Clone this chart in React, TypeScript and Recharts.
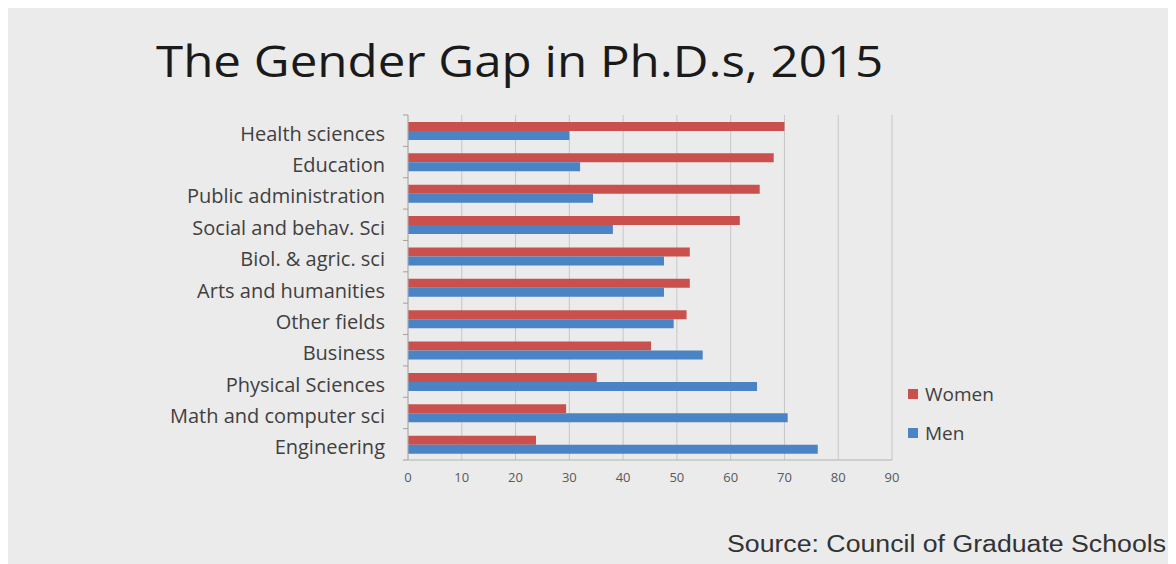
import React from "react";
import { BarChart, Bar, XAxis, YAxis, CartesianGrid } from "recharts";

const categories = [
  "Health sciences",
  "Education",
  "Public administration",
  "Social and behav. Sci",
  "Biol. & agric. sci",
  "Arts and humanities",
  "Other fields",
  "Business",
  "Physical Sciences",
  "Math and computer sci",
  "Engineering",
];
const women = [70, 68, 65.4, 61.7, 52.4, 52.4, 51.8, 45.2, 35.1, 29.4, 23.8];
const men = [30, 32, 34.4, 38.1, 47.6, 47.6, 49.4, 54.8, 64.9, 70.6, 76.2];
const xTicks = [0, 10, 20, 30, 40, 50, 60, 70, 80, 90];

const data = categories.map((name, i) => ({ name, Women: women[i], Men: men[i] }));

const W = 1168;
const H = 556;
const MARGIN = { top: 107, right: 284, bottom: 74, left: 0 };
const X_AXIS_H = 30;
const Y_AXIS_W = 400;
const TICK_SIZE = 6;
const TICK_MARGIN = 17;
const PLOT_H = H - MARGIN.top - MARGIN.bottom - X_AXIS_H;
const BAND = PLOT_H / categories.length;

const RED = "#c9504d";
const BLUE = "#4a84c4";
const FONT = "'Open Sans', Lato, sans-serif";

const YTick = (props: any) => {
  const { x, y, payload, index } = props;
  const ax = x + TICK_SIZE + TICK_MARGIN;
  return (
    <g>
      <text x={x} y={y} dy="0.5em" textAnchor="end" fill="#404040" fontSize={20} fontFamily={FONT}>
        {payload.value}
      </text>
      <line x1={ax - 5} x2={ax} y1={y - BAND / 2} y2={y - BAND / 2} stroke="#a0a0a0" />
      {index === categories.length - 1 && (
        <line x1={ax - 5} x2={ax} y1={y + BAND / 2} y2={y + BAND / 2} stroke="#a0a0a0" />
      )}
    </g>
  );
};

export default function App() {
  return (
    <div style={{ position: "relative", width: W, height: H, background: "#ebebeb", fontFamily: FONT }}>
      <div
        style={{
          position: "absolute",
          left: 148,
          top: 22,
          fontSize: 44,
          color: "#1a1a1a",
          fontFamily: FONT,
          whiteSpace: "nowrap",
          lineHeight: "60px",
          transform: "scaleX(1.12)",
          transformOrigin: "left center",
        }}
      >
        The Gender Gap in Ph.D.s, 2015
      </div>
      <BarChart
        width={W}
        height={H}
        data={data}
        layout="vertical"
        margin={MARGIN}
        barGap={0}
        barSize={9}
        style={{ position: "absolute", left: 0, top: 0 }}
      >
        <CartesianGrid horizontal={false} stroke="#c6c6c6" />
        <XAxis
          type="number"
          domain={[0, 90]}
          ticks={xTicks}
          interval={0}
          height={X_AXIS_H}
          axisLine={{ stroke: "#b0b0b0" }}
          tickLine={false}
          tickMargin={7}
          tick={{ fill: "#595959", fontSize: 13, fontFamily: FONT }}
        />
        <YAxis
          type="category"
          dataKey="name"
          width={Y_AXIS_W}
          axisLine={{ stroke: "#b0b0b0" }}
          tickLine={false}
          tickSize={TICK_SIZE}
          tickMargin={TICK_MARGIN}
          interval={0}
          tick={<YTick />}
        />
        <Bar dataKey="Women" fill={RED} isAnimationActive={false} />
        <Bar dataKey="Men" fill={BLUE} isAnimationActive={false} />
      </BarChart>
      <div style={{ position: "absolute", left: 900, top: 366 }}>
        {[
          { label: "Women", color: RED },
          { label: "Men", color: BLUE },
        ].map((it) => (
          <div key={it.label} style={{ display: "flex", alignItems: "center", height: 39 }}>
            <span style={{ width: 10, height: 10, background: it.color, display: "inline-block", marginRight: 7 }} />
            <span style={{ fontSize: 19, color: "#404040" }}>{it.label}</span>
          </div>
        ))}
      </div>
      <div
        style={{
          position: "absolute",
          left: 719,
          top: 523,
          fontSize: 23,
          color: "#333333",
          fontFamily: "'Liberation Sans', Arial, sans-serif",
          whiteSpace: "nowrap",
          transform: "scaleX(1.16)",
          transformOrigin: "left center",
        }}
      >
        Source: Council of Graduate Schools
      </div>
    </div>
  );
}
